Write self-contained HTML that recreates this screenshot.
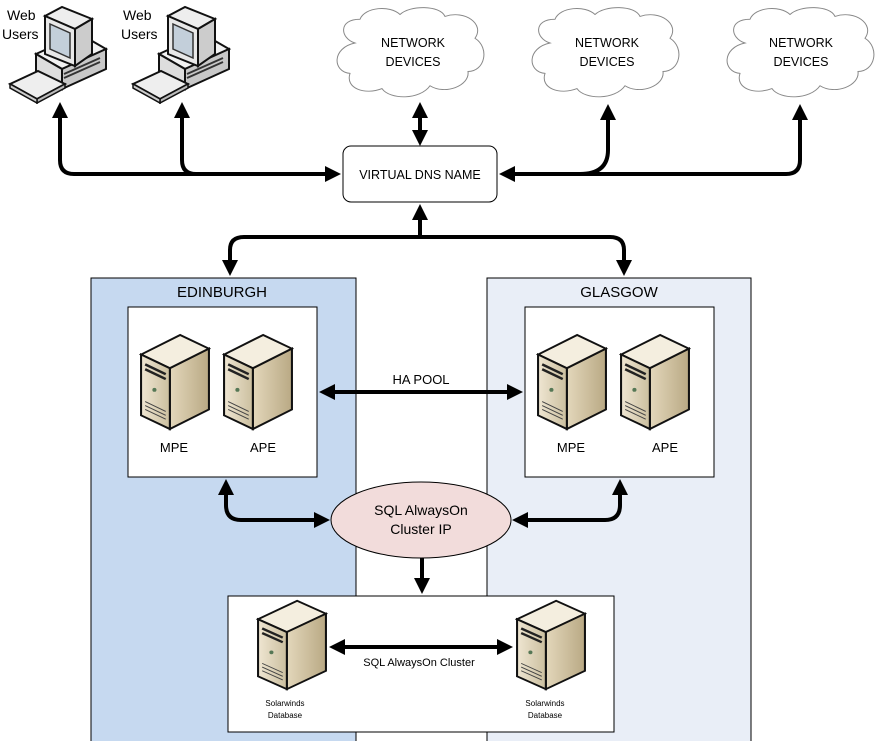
<!DOCTYPE html>
<html><head><meta charset="utf-8"><style>
body{margin:0;background:#fff;}
svg{display:block;font-family:"Liberation Sans",sans-serif;}
</style></head><body>
<svg width="889" height="741" viewBox="0 0 889 741" xmlns="http://www.w3.org/2000/svg">
<defs>
<linearGradient id="sf" x1="0" x2="1"><stop offset="0" stop-color="#efe6d2"/><stop offset="1" stop-color="#cbbf9f"/></linearGradient>
<linearGradient id="ss" x1="0" x2="1"><stop offset="0" stop-color="#e3d7bb"/><stop offset="1" stop-color="#b9a984"/></linearGradient>
<symbol id="srv" viewBox="0 0 70 100" preserveAspectRatio="none">
<polygon points="2,22 40,2 68,16 30,36" fill="#f4eedf" stroke="#111" stroke-width="2"/>
<polygon points="30,36 68,16 68,78 30,98" fill="url(#ss)" stroke="#111" stroke-width="2"/>
<polygon points="2,22 30,36 30,98 2,84" fill="url(#sf)" stroke="#111" stroke-width="2"/>
<path d="M6,32 L26,42 M6,37 L26,47" stroke="#222" stroke-width="2.5"/>
<circle cx="15" cy="58" r="2" fill="#575"/>
<path d="M6,70 L26,80 M6,74 L26,84 M6,78 L26,88" stroke="#444" stroke-width="1"/>
</symbol>
<symbol id="pc" viewBox="0 0 110 100" preserveAspectRatio="none">
<polygon points="36,50 80,30 106,45 62,65" fill="#f2f2f2" stroke="#111" stroke-width="2"/>
<polygon points="36,50 62,65 62,85 36,70" fill="#ddd" stroke="#111" stroke-width="2"/>
<polygon points="62,65 106,45 106,65 62,85" fill="#c8c8c8" stroke="#111" stroke-width="2"/>
<path d="M64,70 L100,54 M64,74 L100,58" stroke="#333" stroke-width="2"/>
<polygon points="45,12 62,3 92,15 75,25" fill="#eee" stroke="#111" stroke-width="2"/>
<polygon points="75,25 92,15 92,50 75,62" fill="#ccc" stroke="#111" stroke-width="2"/>
<polygon points="45,12 75,25 75,62 45,50" fill="#e8e8e8" stroke="#111" stroke-width="2"/>
<polygon points="50,20 70,29 70,54 50,45" fill="#c3cfda" stroke="#333" stroke-width="1.5"/>
<polygon points="10,80 38,67 65,80 37,95" fill="#eee" stroke="#111" stroke-width="2"/>
<polygon points="37,95 65,80 65,84 37,99" fill="#bbb" stroke="#111" stroke-width="1.5"/>
<polygon points="10,80 37,95 37,99 10,84" fill="#ccc" stroke="#111" stroke-width="1.5"/>
</symbol>
<symbol id="cloud" viewBox="0 0 160 100" preserveAspectRatio="none">
<path d="M25,40 C10,35 8,15 30,15 C35,2 60,0 70,10 C80,0 110,0 115,12 C135,5 155,20 145,35 C160,45 155,70 138,70 C140,85 115,95 100,85 C90,100 60,100 52,88 C35,95 15,88 20,72 C2,70 2,45 25,40 Z" fill="#fff" stroke="#888" stroke-width="1"/>
</symbol>
<marker id="a" markerWidth="4" markerHeight="4" refX="2" refY="2" orient="auto-start-reverse" markerUnits="strokeWidth"><path d="M0,0 L4,2 L0,4 Z" fill="#000"/></marker>
</defs>
<rect x="91" y="278" width="265" height="470" fill="#c6d9f0" stroke="#000"/>
<rect x="487" y="278" width="264" height="470" fill="#e9eef7" stroke="#000"/>
<text x="222" y="297" font-size="15" text-anchor="middle">EDINBURGH</text>
<text x="619" y="297" font-size="15" text-anchor="middle">GLASGOW</text>
<rect x="128" y="307" width="189" height="170" fill="#fff" stroke="#000"/>
<rect x="525" y="307" width="189" height="170" fill="#fff" stroke="#000"/>
<rect x="228" y="596" width="386" height="136" fill="#fff" stroke="#000"/>
<use href="#srv" x="139" y="333" width="72" height="98"/>
<use href="#srv" x="222" y="333" width="72" height="98"/>
<use href="#srv" x="536" y="333" width="72" height="98"/>
<use href="#srv" x="619" y="333" width="72" height="98"/>
<use href="#srv" x="256" y="599" width="72" height="92"/>
<use href="#srv" x="515" y="599" width="72" height="92"/>
<g font-size="13" text-anchor="middle">
<text x="174" y="452">MPE</text><text x="263" y="452">APE</text>
<text x="571" y="452">MPE</text><text x="665" y="452">APE</text>
<text x="421" y="384">HA POOL</text>
<text x="419" y="666" font-size="11">SQL AlwaysOn Cluster</text>
</g>
<g font-size="8" text-anchor="middle">
<text x="285" y="706">Solarwinds</text><text x="285" y="718">Database</text>
<text x="545" y="706">Solarwinds</text><text x="545" y="718">Database</text>
</g>
<use href="#cloud" x="330" y="5" width="160" height="95"/>
<use href="#cloud" x="525" y="5" width="160" height="95"/>
<use href="#cloud" x="720" y="5" width="160" height="95"/>
<g font-size="12.5" text-anchor="middle">
<text x="413" y="47">NETWORK</text><text x="413" y="66">DEVICES</text>
<text x="607" y="47">NETWORK</text><text x="607" y="66">DEVICES</text>
<text x="801" y="47">NETWORK</text><text x="801" y="66">DEVICES</text>
</g>
<use href="#pc" x="0" y="4" width="110" height="100"/>
<use href="#pc" x="123" y="4" width="110" height="100"/>
<g font-size="14"><text x="7" y="20">Web</text><text x="2" y="39">Users</text>
<text x="123" y="20">Web</text><text x="121" y="39">Users</text></g>
<rect x="343" y="146" width="154" height="56" rx="8" fill="#fff" stroke="#000"/>
<text x="420" y="179" font-size="12.5" text-anchor="middle">VIRTUAL DNS NAME</text>
<ellipse cx="421" cy="520" rx="90" ry="38" fill="#f2dcdb" stroke="#000"/>
<text x="421" y="515" font-size="14" text-anchor="middle">SQL AlwaysOn</text>
<text x="421" y="534" font-size="14" text-anchor="middle">Cluster IP</text>
<g fill="none" stroke="#000" stroke-width="4">
<path d="M60,110 V160 Q60,174 74,174 H333" marker-start="url(#a)" marker-end="url(#a)"/>
<path d="M182,110 V160 Q182,174 196,174 H200" marker-start="url(#a)"/>
<path d="M420,110 V138" marker-start="url(#a)" marker-end="url(#a)"/>
<path d="M507,174 H580 Q608,174 608,150 V112" marker-start="url(#a)" marker-end="url(#a)"/>
<path d="M580,174 H786 Q800,174 800,160 V112" marker-end="url(#a)"/>
<path d="M420,212 V237" marker-start="url(#a)"/>
<path d="M230,268 V250 Q230,237 244,237 H610 Q624,237 624,250 V268" marker-start="url(#a)" marker-end="url(#a)"/>
<path d="M327,392 H515" marker-start="url(#a)" marker-end="url(#a)"/>
<path d="M226,487 V505 Q226,520 241,520 H322" marker-start="url(#a)" marker-end="url(#a)"/>
<path d="M520,520 H605 Q620,520 620,505 V487" marker-start="url(#a)" marker-end="url(#a)"/>
<path d="M422,558 V586" marker-end="url(#a)"/>
<path d="M337,647 H505" marker-start="url(#a)" marker-end="url(#a)"/>
</g>
</svg>
</body></html>
